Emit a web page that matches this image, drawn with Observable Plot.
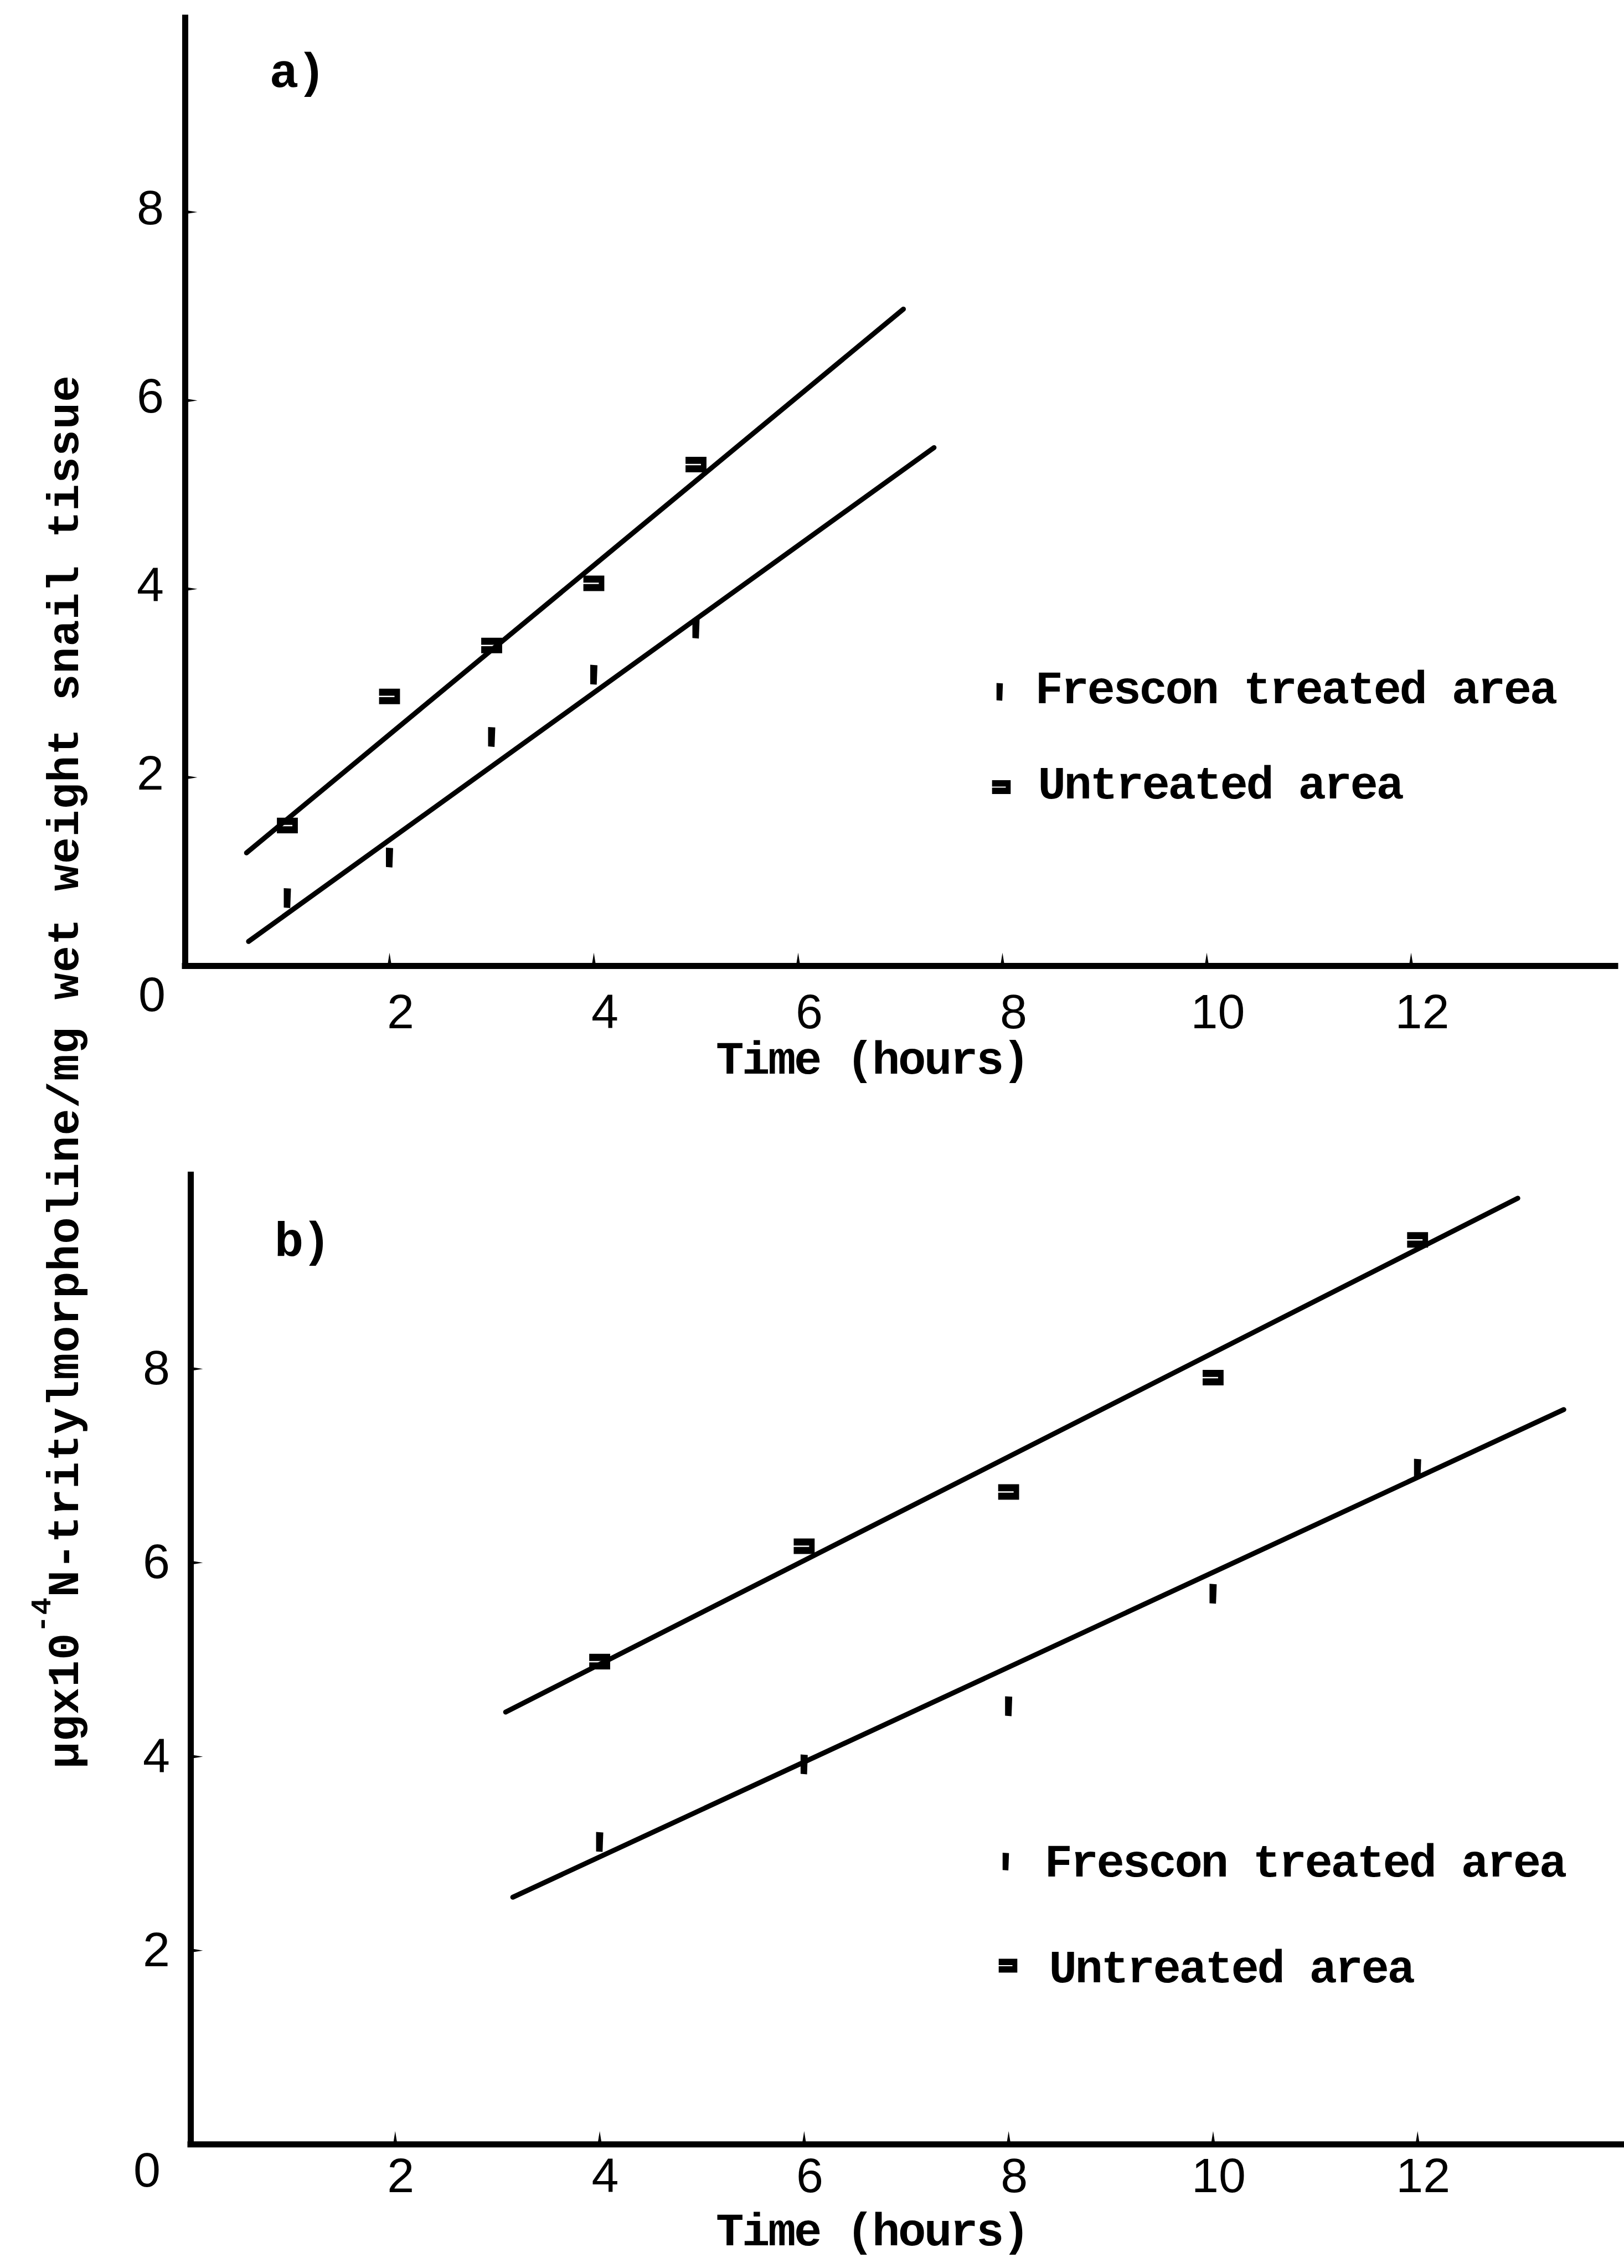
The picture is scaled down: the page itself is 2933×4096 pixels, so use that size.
<!DOCTYPE html>
<html>
<head>
<meta charset="utf-8">
<script src="https://cdn.jsdelivr.net/npm/d3@7"></script>
<script src="https://cdn.jsdelivr.net/npm/@observablehq/plot@0.6"></script>
<style>
  html, body { margin: 0; padding: 0; background: #fff; overflow: hidden; }
  #figure { position: relative; width: 2933px; height: 4096px; background: #fff; }
  #figure svg.plot-panel { display: block; }
  g[font-family*="Mono"] text { letter-spacing: -3.4px; }
  #ylabel { position: absolute; left: 0; top: 0; pointer-events: none; }
</style>
</head>
<body>
<div id="figure"></div>
<script>
// ---- data ----------------------------------------------------------------
const seriesNames = ["Frescon treated area", "Untreated area"];
const xTitle = "Time (hours)";
const yTitleParts = ["μgx10", "-4", "N-tritylmorpholine/mg wet weight snail tissue"];
const panelNames = ["a)", "b)"];
const xTicks = [2, 4, 6, 8, 10, 12];
const yTicks = [2, 4, 6, 8];
const originLabel = "0";

// a) sampling at 1-5 h
const hoursA = [1, 2, 3, 4, 5];
const fresconA = [0.72, 1.15, 2.43, 3.09, 3.58];
const untreatedA = [1.49, 2.86, 3.40, 4.06, 5.32];
const fresconFitHoursA = [0.62, 7.33];
const fresconFitA = [0.26, 5.50];
const untreatedFitHoursA = [0.60, 7.03];
const untreatedFitA = [1.20, 6.97];

// b) sampling at 4-12 h
const hoursB = [4, 6, 8, 10, 12];
const fresconB = [3.12, 3.92, 4.52, 5.68, 6.97];
const untreatedB = [4.98, 6.17, 6.73, 7.91, 9.33];
const fresconFitHoursB = [3.15, 13.43];
const fresconFitB = [2.55, 7.58];
const untreatedFitHoursB = [3.08, 12.98];
const untreatedFitB = [4.46, 9.76];

// ---- symbols ---------------------------------------------------------------
// typed short vertical stroke
const strokeSymbol = {
  draw(ctx, size) {
    const r = Math.sqrt(size / Math.PI);
    const w = r * 0.36, h = r;
    ctx.moveTo(-w, -h); ctx.lineTo(w, -h * 0.95); ctx.lineTo(w * 0.8, h);
    ctx.lineTo(-w, h * 0.95); ctx.closePath();
  }
};
// typed overstrike block with a thin slit open on the left
const blockSymbol = {
  draw(ctx, size) {
    const r = Math.sqrt(size / Math.PI);
    const w = r * 1.05, h = r * 0.78, s = r * 0.07, t = r * 0.55;
    ctx.moveTo(-w, -h); ctx.lineTo(w, -h); ctx.lineTo(w, h); ctx.lineTo(-w, h);
    ctx.lineTo(-w, s); ctx.lineTo(w - t, s); ctx.lineTo(w - t, -s); ctx.lineTo(-w, -s);
    ctx.closePath();
  }
};
const spikeUp = {
  draw(ctx, size) {
    const r = Math.sqrt(size / Math.PI);
    ctx.moveTo(-r * 0.16, 0); ctx.lineTo(0, -r); ctx.lineTo(r * 0.16, 0); ctx.closePath();
  }
};
const spikeRight = {
  draw(ctx, size) {
    const r = Math.sqrt(size / Math.PI);
    ctx.moveTo(0, -r * 0.16); ctx.lineTo(r, 0); ctx.lineTo(0, r * 0.16); ctx.closePath();
  }
};

const MONO = "Liberation Mono, Courier New, monospace";
const DIGITS = "Liberation Sans, Arial, sans-serif";
const W = 2933;

function series(xs, ys) { return xs.map((x, i) => ({x, y: ys[i]})); }

function panel(cfg) {
  const ink = "#000";
  return Plot.plot({
    width: W,
    height: cfg.height,
    marginTop: cfg.marginTop,
    marginBottom: cfg.marginBottom,
    marginLeft: cfg.marginLeft,
    marginRight: cfg.marginRight,
    x: {domain: [0, 14], axis: null},
    y: {domain: [0, 10], axis: null},
    className: "plot-panel",
    style: {background: "#fff", color: ink, overflow: "visible"},
    marks: [
      // axes
      Plot.ruleY([0], {stroke: ink, strokeWidth: 11, strokeLinecap: "square"}),
      Plot.ruleX([0], {stroke: ink, strokeWidth: 11, strokeLinecap: "square", insetTop: cfg.axisTopExtra}),
      // tick spikes
      Plot.dot(xTicks, {x: d => d, frameAnchor: "bottom", symbol: spikeUp, r: 24, fill: ink, stroke: "none"}),
      Plot.dot(yTicks, {y: d => d, frameAnchor: "left", symbol: spikeRight, r: 22, fill: ink, stroke: "none"}),
      // tick labels
      Plot.text(xTicks, {x: d => d, frameAnchor: "bottom", text: d => String(d), dx: cfg.xTickDx, dy: cfg.xTickDy,
        fontFamily: DIGITS, fontSize: 88, fill: ink, textAnchor: "middle", lineAnchor: "middle"}),
      Plot.text(yTicks, {y: d => d, frameAnchor: "left", text: d => String(d), dx: cfg.yTickDx, dy: cfg.yTickDy,
        fontFamily: DIGITS, fontSize: 88, fill: ink, textAnchor: "middle", lineAnchor: "middle"}),
      Plot.text([originLabel], {frameAnchor: "bottom-left", text: d => d, dx: cfg.originDx, dy: cfg.originDy,
        fontFamily: DIGITS, fontSize: 88, fill: ink, textAnchor: "middle", lineAnchor: "middle"}),
      // x title
      Plot.text([xTitle], {frameAnchor: "bottom", text: d => d, dx: cfg.titleDx, dy: cfg.titleDy,
        fontFamily: MONO, fontSize: 84, fontWeight: "bold", fill: ink, textAnchor: "middle", lineAnchor: "middle"}),
      // panel tag
      Plot.text([cfg.name], {frameAnchor: "top-left", text: d => d, dx: cfg.tagDx, dy: cfg.tagDy,
        fontFamily: MONO, fontSize: 88, fontWeight: "bold", fill: ink, textAnchor: "start", lineAnchor: "middle"}),
      // fitted lines
      Plot.line(cfg.fresconFit, {x: "x", y: "y", stroke: ink, strokeWidth: 9, strokeLinecap: "round"}),
      Plot.line(cfg.untreatedFit, {x: "x", y: "y", stroke: ink, strokeWidth: 9, strokeLinecap: "round"}),
      // observations
      Plot.dot(cfg.frescon, {x: "x", y: "y", symbol: strokeSymbol, r: 18, fill: ink, stroke: "none"}),
      Plot.dot(cfg.untreated, {x: "x", y: "y", symbol: blockSymbol, r: 18, fill: ink, stroke: "none"}),
      // key
      Plot.dot([seriesNames[0]], {frameAnchor: "top-left", dx: cfg.key[0][0], dy: cfg.key[0][1],
        symbol: strokeSymbol, r: 16, fill: ink, stroke: "none"}),
      Plot.text([seriesNames[0]], {frameAnchor: "top-left", text: d => d, dx: cfg.key[1][0], dy: cfg.key[1][1],
        fontFamily: MONO, fontSize: 84, fontWeight: "bold", fill: ink, textAnchor: "start", lineAnchor: "middle"}),
      Plot.dot([seriesNames[1]], {frameAnchor: "top-left", dx: cfg.key[2][0], dy: cfg.key[2][1],
        symbol: blockSymbol, r: 16, fill: ink, stroke: "none"}),
      Plot.text([seriesNames[1]], {frameAnchor: "top-left", text: d => d, dx: cfg.key[3][0], dy: cfg.key[3][1],
        fontFamily: MONO, fontSize: 84, fontWeight: "bold", fill: ink, textAnchor: "start", lineAnchor: "middle"})
    ]
  });
}

const fig = document.getElementById("figure");

const panelA = panel({
  name: panelNames[0],
  height: 2000, marginTop: 42, marginBottom: 256, marginLeft: 334, marginRight: 16,
  axisTopExtra: -10,
  xTickDx: 20, xTickDy: 84, yTickDx: -63, yTickDy: -6,
  originDx: -60, originDy: 53, titleDx: -51, titleDy: 168,
  tagDx: 152, tagDy: 86,
  key: [[1471, 1207], [1535, 1201], [1474, 1379], [1540, 1373]],
  frescon: series(hoursA, fresconA),
  untreated: series(hoursA, untreatedA),
  fresconFit: series(fresconFitHoursA, fresconFitA),
  untreatedFit: series(untreatedFitHoursA, untreatedFitA)
});

const panelB = panel({
  name: panelNames[1],
  height: 2096, marginTop: 121.5, marginBottom: 223.7, marginLeft: 344, marginRight: 4,
  axisTopExtra: 0,
  xTickDx: 10, xTickDy: 58, yTickDx: -62, yTickDy: 0,
  originDx: -79, originDy: 48, titleDx: -62, titleDy: 155,
  tagDx: 151, tagDy: 118,
  key: [[1472, 1240], [1542, 1240], [1476, 1428], [1550, 1431]],
  frescon: series(hoursB, fresconB),
  untreated: series(hoursB, untreatedB),
  fresconFit: series(fresconFitHoursB, fresconFitB),
  untreatedFit: series(untreatedFitHoursB, untreatedFitB)
});

fig.appendChild(panelA);
fig.appendChild(panelB);

// shared y-axis title, running up the left edge across both panels
const overlay = d3.create("svg")
  .attr("id", "ylabel")
  .attr("width", W)
  .attr("height", 4096);
const t = overlay.append("text")
  .attr("transform", "translate(141,1936) rotate(-90)")
  .attr("text-anchor", "middle")
  .attr("font-family", MONO)
  .attr("font-size", 80)
  .attr("font-weight", "bold")
  .attr("fill", "#000")
  .attr("textLength", 2516)
  .attr("lengthAdjust", "spacing");
t.append("tspan").text(yTitleParts[0]);
t.append("tspan").attr("font-size", 52).attr("dy", -50).text(yTitleParts[1]);
t.append("tspan").attr("dy", 50).text(yTitleParts[2]);
fig.appendChild(overlay.node());
</script>
</body>
</html>
